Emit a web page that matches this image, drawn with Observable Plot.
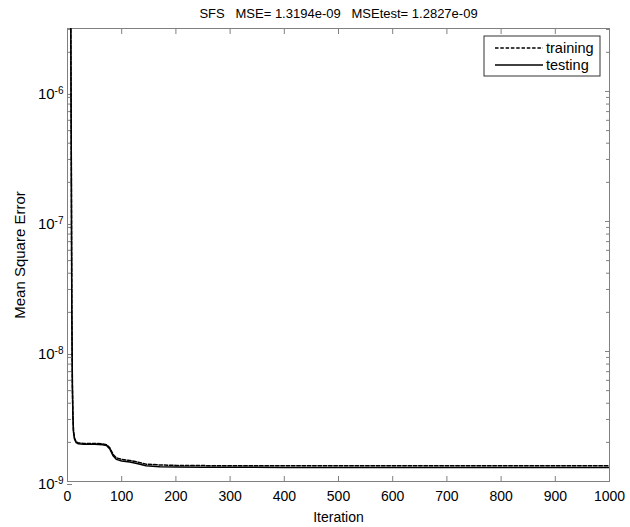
<!DOCTYPE html>
<html>
<head>
<meta charset="utf-8">
<script src="https://cdn.jsdelivr.net/npm/d3@7"></script>
<script src="https://cdn.jsdelivr.net/npm/@observablehq/plot@0.6"></script>
<style>
  html, body { margin: 0; padding: 0; background: white; }
  #chart { width: 630px; height: 527px; }
</style>
</head>
<body>
<div id="chart"></div>
<script>
// ---- Data ----
const titleText = "SFS   MSE= 1.3194e-09   MSEtest= 1.2827e-09";
const seriesNames = ["training", "testing"];
const iterations = [0, 3, 6, 7, 8, 9, 10, 11, 13, 16, 20, 30, 50, 65, 72, 78, 84, 90, 100, 115, 130, 145, 170, 200, 250, 300, 400, 500, 600, 700, 800, 900, 1000];
const training = [5e-5, 2e-5, 4e-6, 3e-7, 2e-8, 5.5e-9, 3.2e-9, 2.45e-9, 2.15e-9, 2.02e-9, 1.98e-9, 1.96e-9, 1.96e-9, 1.95e-9, 1.92e-9, 1.82e-9, 1.62e-9, 1.52e-9, 1.48e-9, 1.45e-9, 1.41e-9, 1.36e-9, 1.34e-9, 1.33e-9, 1.325e-9, 1.322e-9, 1.321e-9, 1.32e-9, 1.32e-9, 1.3196e-9, 1.3195e-9, 1.3194e-9, 1.3194e-9];
const testing = [5e-5, 2e-5, 4e-6, 3e-7, 2e-8, 5.5e-9, 3.2e-9, 2.42e-9, 2.12e-9, 1.99e-9, 1.95e-9, 1.93e-9, 1.93e-9, 1.92e-9, 1.89e-9, 1.78e-9, 1.58e-9, 1.48e-9, 1.44e-9, 1.41e-9, 1.37e-9, 1.32e-9, 1.30e-9, 1.292e-9, 1.287e-9, 1.285e-9, 1.284e-9, 1.2835e-9, 1.283e-9, 1.2828e-9, 1.2827e-9, 1.2827e-9, 1.2827e-9];
const xTicks = [0, 100, 200, 300, 400, 500, 600, 700, 800, 900, 1000];
const yMajorTicks = [1e-9, 1e-8, 1e-7, 1e-6];
const yMinorTicks = [
  2e-9, 3e-9, 4e-9, 5e-9, 6e-9, 7e-9, 8e-9, 9e-9,
  2e-8, 3e-8, 4e-8, 5e-8, 6e-8, 7e-8, 8e-8, 9e-8,
  2e-7, 3e-7, 4e-7, 5e-7, 6e-7, 7e-7, 8e-7, 9e-7,
  2e-6, 3e-6
];
const xLabel = "Iteration";
const yLabel = "Mean Square Error";

// ---- Build tables ----
const trainRows = iterations.map((it, i) => ({it, v: training[i]}));
const testRows = iterations.map((it, i) => ({it, v: testing[i]}));

const font = "'Liberation Sans', Arial, sans-serif";
const axisColor = "#808080";
const noText = () => "";

const plot = Plot.plot({
  width: 630,
  height: 527,
  marginLeft: 67,
  marginRight: 21,
  marginTop: 28,
  marginBottom: 46,
  style: {fontFamily: font, fontSize: "14px", background: "white", color: "black", overflow: "visible"},
  x: {domain: [0, 1000]},
  y: {type: "log", domain: [1e-9, 3.05e-6]},
  marks: [
    Plot.axisX(xTicks, {anchor: "bottom", tickSize: -5, tickPadding: 15, stroke: axisColor, fontSize: 14,
      tickFormat: d => String(d),
      label: xLabel, labelAnchor: "center", labelArrow: "none", labelOffset: 40}),
    Plot.axisX(xTicks, {anchor: "top", tickSize: -5, stroke: axisColor, tickFormat: noText, label: null}),
    Plot.axisY(yMajorTicks, {anchor: "left", tickSize: -5, tickPadding: 9, stroke: axisColor, fontSize: 15, dy: 3,
      tickFormat: d => "10^" + Math.round(Math.log10(d)),
      label: yLabel, labelAnchor: "center", labelArrow: "none", labelOffset: 53}),
    Plot.axisY(yMinorTicks, {anchor: "left", tickSize: -4, stroke: axisColor, tickFormat: noText, label: null}),
    Plot.axisY(yMajorTicks, {anchor: "right", tickSize: -5, stroke: axisColor, tickFormat: noText, label: null}),
    Plot.axisY(yMinorTicks, {anchor: "right", tickSize: -4, stroke: axisColor, tickFormat: noText, label: null}),
    Plot.frame({stroke: axisColor}),
    Plot.line(testRows, {x: "it", y: "v", stroke: "black", strokeWidth: 1.5, clip: true}),
    Plot.line(trainRows, {x: "it", y: "v", stroke: "black", strokeWidth: 1.5, strokeDasharray: "3.5,1.8", clip: true}),
    Plot.text([titleText], {frameAnchor: "top", dy: -15, fontSize: 13, fill: "black", lineAnchor: "middle"})
  ]
});

document.getElementById("chart").appendChild(plot);

// Superscript exponents on log tick labels
const svg = d3.select(plot);
svg.selectAll('g[aria-label="y-axis tick label"] text').each(function() {
  const t = this.textContent;
  if (!t.includes("^")) return;
  const exp = t.split("^")[1];
  const sel = d3.select(this);
  sel.text(null);
  sel.append("tspan").text("10");
  sel.append("tspan").attr("dy", "-0.55em").style("font-size", "10px").text(exp);
});

// Legend box (inside the axes, top-right)
const lx = 484, ly = 36, lw = 116, lh = 40;
const leg = svg.append("g");
leg.append("rect").attr("x", lx).attr("y", ly).attr("width", lw).attr("height", lh)
  .attr("fill", "white").attr("stroke", "#333").attr("stroke-width", 1);
seriesNames.forEach((name, i) => {
  const yy = ly + 12 + i * 17;
  leg.append("line").attr("x1", lx + 11).attr("x2", lx + 59).attr("y1", yy).attr("y2", yy)
    .attr("stroke", "black").attr("stroke-width", 1.3)
    .attr("stroke-dasharray", i === 0 ? "3.5,1.8" : null);
  leg.append("text").attr("x", lx + 62).attr("y", yy).attr("dy", "0.35em")
    .attr("text-anchor", "start")
    .style("font-family", font).style("font-size", "14.5px").style("fill", "black")
    .text(name);
});
</script>
</body>
</html>
